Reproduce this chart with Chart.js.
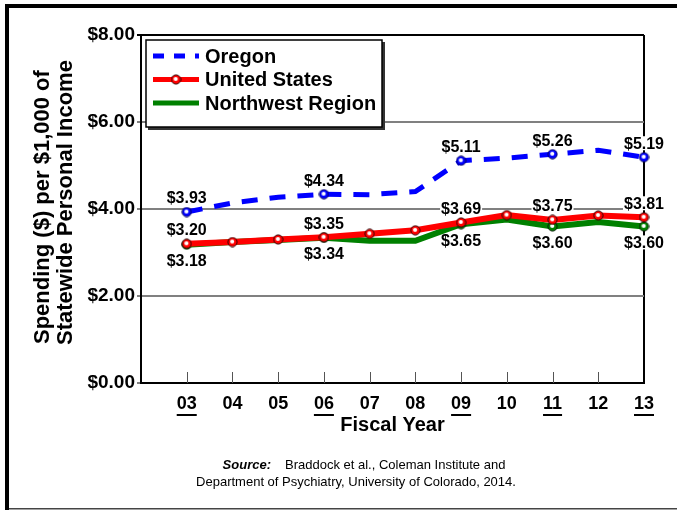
<!DOCTYPE html>
<html>
<head>
<meta charset="utf-8">
<script src="https://cdn.jsdelivr.net/npm/chart.js@4.4.0/dist/chart.umd.min.js"></script>
<style>
  body { margin: 0; background: #fff; }
  canvas { display: block; }
</style>
</head>
<body>
<canvas id="grafico" width="677" height="510"></canvas>
<script>
const ctx = document.getElementById('grafico');

    let years = ['03', '04', '05', '06', '07', '08', '09', '10', '11', '12', '13']
    let oregon = [3.93, 4.14, 4.27, 4.34, 4.33, 4.40, 5.11, 5.17, 5.26, 5.35, 5.19]
    let unitedStates = [3.20, 3.24, 3.30, 3.35, 3.43, 3.51, 3.69, 3.86, 3.75, 3.85, 3.81]
    let northwest = [3.18, 3.24, 3.29, 3.34, 3.27, 3.27, 3.65, 3.76, 3.60, 3.70, 3.60]
    let markedYears = ['03', '06', '09', '11', '13']
    let yTicks = [0, 2, 4, 6, 8]
    let yTitle = ['Spending ($) per $1,000 of', 'Statewide Personal Income']
    let sourceLabel = 'Source:'
    let sourceLine1 = 'Braddock et al., Coleman Institute and'
    let sourceLine2 = 'Department of Psychiatry, University of Colorado, 2014.'

    const FONT = '"Liberation Sans", Arial, sans-serif';
    Chart.defaults.font.family = FONT;
    Chart.defaults.color = '#000';

    function makeMarker(fill, edge) {
        const c = document.createElement('canvas');
        c.width = 11; c.height = 11;
        const g = c.getContext('2d');
        g.beginPath(); g.arc(5.5, 5.5, 4.6, 0, Math.PI * 2);
        g.fillStyle = fill; g.fill();
        g.lineWidth = 1; g.strokeStyle = edge; g.stroke();
        g.beginPath(); g.arc(5.2, 5.0, 2.1, 0, Math.PI * 2);
        g.fillStyle = '#fff'; g.fill();
        return c;
    }

    const toPoints = vals => years.map((yr, i) => ({ x: parseInt(yr, 10), y: vals[i] }));
    const markedRadius = years.map(yr => markedYears.includes(yr) ? 5 : 0);

    const extras = {
        id: 'extras',
        beforeDraw(chart) {
            const c = chart.ctx;
            c.save();
            c.fillStyle = '#fff';
            c.fillRect(0, 0, chart.width, chart.height);
            c.fillStyle = '#444';
            c.fillRect(5, 508, 672, 1.5);
            c.fillStyle = '#000';
            c.fillRect(5, 4, 4, 506);
            c.fillRect(5, 4, 672, 4);

            // y axis title, two lines starting from the bottom
            c.font = 'bold 22px ' + FONT;
            c.textAlign = 'left';
            c.textBaseline = 'middle';
            c.translate(43, 344);
            c.rotate(-Math.PI / 2);
            yTitle.forEach((line, i) => c.fillText(line, i === 0 ? 0 : -1, i * 23));
            c.restore();
        },
        beforeDatasetsDraw(chart) {
            const c = chart.ctx;
            const xs = chart.scales.x;
            const area = chart.chartArea;
            c.save();
            // small tick marks inside the plot
            c.strokeStyle = '#555';
            c.lineWidth = 1;
            years.slice(0, -1).forEach(yr => {
                const px = Math.round(xs.getPixelForValue(parseInt(yr, 10))) + 0.5;
                c.beginPath();
                c.moveTo(px, area.bottom);
                c.lineTo(px, area.bottom - 11);
                c.stroke();
            });
            // value labels with white background
            c.font = 'bold 16px ' + FONT;
            c.textAlign = 'center';
            c.textBaseline = 'middle';
            chart.data.datasets.forEach((ds, di) => {
                const meta = chart.getDatasetMeta(di);
                years.forEach((yr, i) => {
                    if (!markedYears.includes(yr)) return;
                    const pt = meta.data[i];
                    const txt = '$' + ds.data[i].y.toFixed(2);
                    const ty = pt.y + (ds.labelPos === 'below' ? 16 : -14);
                    const w = c.measureText(txt).width;
                    c.fillStyle = '#fff';
                    c.fillRect(pt.x - w / 2 - 1, ty - 7, w + 2, 14);
                    c.fillStyle = '#000';
                    c.fillText(txt, pt.x, ty + 1);
                });
            });
            c.restore();
        },
        afterDraw(chart) {
            const c = chart.ctx;
            const xs = chart.scales.x;
            c.save();
            // underline the marked years
            c.font = 'bold 18px ' + FONT;
            c.strokeStyle = '#000';
            c.lineWidth = 2;
            markedYears.forEach(yr => {
                const px = xs.getPixelForValue(parseInt(yr, 10));
                const w = c.measureText(yr).width;
                c.beginPath();
                c.moveTo(px - w / 2, 415);
                c.lineTo(px + w / 2, 415);
                c.stroke();
            });

            // legend box
            const L = { x: 146, y: 40, w: 236, h: 87 };
            c.fillStyle = '#333';
            c.fillRect(L.x + 2, L.y + 2, L.w + 1, L.h + 1);
            c.fillStyle = '#fff';
            c.fillRect(L.x, L.y, L.w, L.h);
            c.strokeStyle = '#000';
            c.lineWidth = 1.5;
            c.strokeRect(L.x, L.y, L.w, L.h);
            c.textAlign = 'left';
            c.textBaseline = 'middle';
            chart.data.datasets.forEach((ds, i) => {
                const yy = L.y + 16 + i * 23.5;
                c.beginPath();
                c.setLineDash(ds.legendDash || []);
                c.lineCap = 'butt';
                c.strokeStyle = ds.borderColor;
                c.lineWidth = 5;
                c.moveTo(153, yy);
                c.lineTo(199, yy);
                c.stroke();
                c.setLineDash([]);
                if (ds.legendMarker) c.drawImage(ds.pointStyle, 176 - 5.5, yy - 5.5);
                c.fillStyle = '#000';
                c.font = 'bold 20px ' + FONT;
                c.fillText(ds.label, 205, yy + 1);
            });

            // source note
            c.textBaseline = 'middle';
            c.font = 'italic bold 13px ' + FONT;
            c.textAlign = 'right';
            c.fillText(sourceLabel, 271, 465);
            c.font = '13px ' + FONT;
            c.textAlign = 'left';
            c.fillText(sourceLine1, 285, 465);
            c.textAlign = 'center';
            c.fillText(sourceLine2, 356, 482);
            c.restore();
        }
    };

    new Chart(ctx, {
        type: 'line',
        data: {
            datasets: [{
                label: 'Oregon',
                data: toPoints(oregon),
                borderColor: '#0000ff',
                borderWidth: 5,
                borderDash: [16, 12],
                borderCapStyle: 'butt',
                pointStyle: makeMarker('#0000ff', '#000060'),
                pointRadius: markedRadius,
                labelPos: 'above',
                legendDash: [11, 10],
                legendMarker: false,
                clip: false
            }, {
                label: 'United States',
                data: toPoints(unitedStates),
                borderColor: '#ff0000',
                borderWidth: 6,
                pointStyle: makeMarker('#ff0000', '#300000'),
                pointRadius: 5,
                labelPos: 'above',
                legendMarker: true,
                clip: false
            }, {
                label: 'Northwest Region',
                data: toPoints(northwest),
                borderColor: '#008000',
                borderWidth: 6,
                pointStyle: makeMarker('#008000', '#002000'),
                pointRadius: markedRadius,
                labelPos: 'below',
                legendMarker: false,
                clip: false
            }]
        },
        options: {
            responsive: false,
            animation: false,
            layout: { padding: { top: 35, right: 33, bottom: 0, left: 0 } },
            plugins: {
                legend: { display: false },
                tooltip: { enabled: false }
            },
            elements: { line: { tension: 0 }, point: { hoverRadius: 5 } },
            scales: {
                x: {
                    type: 'linear',
                    min: 2,
                    max: 13,
                    afterBuildTicks: s => { s.ticks = years.map(yr => ({ value: parseInt(yr, 10) })); },
                    afterFit: s => { s.height = 127; },
                    ticks: {
                        autoSkip: false,
                        padding: 10,
                        font: { size: 18, weight: 'bold' },
                        callback: v => String(v).padStart(2, '0')
                    },
                    grid: {
                        drawTicks: false,
                        lineWidth: 2,
                        color: c => c.tick && c.tick.value === 13 ? '#000' : 'rgba(0,0,0,0)'
                    },
                    border: { color: '#000', width: 2 },
                    title: {
                        display: true,
                        text: 'Fiscal Year',
                        font: { size: 20, weight: 'bold' },
                        padding: { top: 0, bottom: 73 }
                    }
                },
                y: {
                    min: 0,
                    max: 8,
                    afterBuildTicks: s => { s.ticks = yTicks.map(v => ({ value: v })); },
                    afterFit: s => { s.width = 141; },
                    ticks: {
                        padding: 2,
                        font: { size: 19, weight: 'bold' },
                        callback: v => '$' + v.toFixed(2)
                    },
                    grid: {
                        tickLength: 4,
                        lineWidth: 2,
                        color: c => c.tick && c.tick.value === 8 ? '#000' : '#808080'
                    },
                    border: { color: '#000', width: 2 }
                }
            }
        },
        plugins: [extras]
    });
</script>
</body>
</html>
